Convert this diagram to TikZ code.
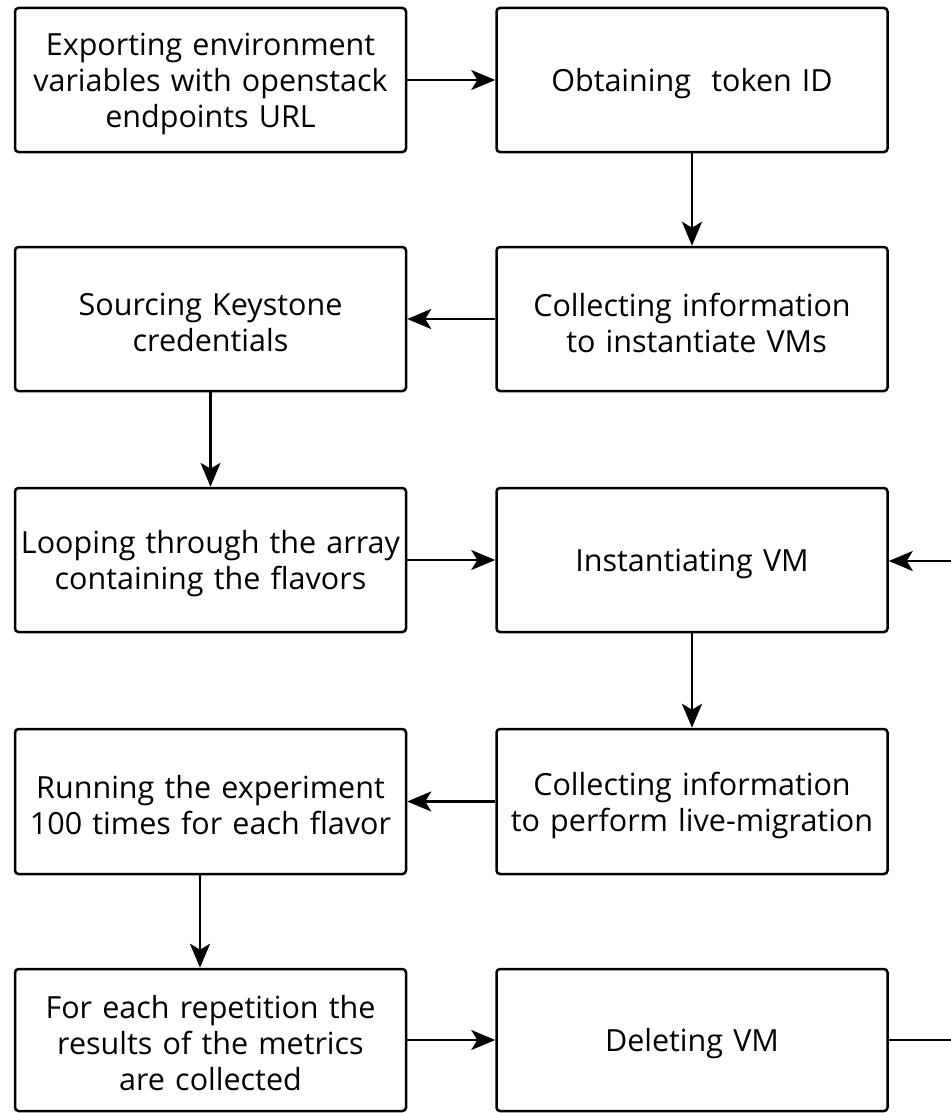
\documentclass[tikz,border=0pt]{standalone}
\usepackage{fontspec}
\setmainfont{Open Sans}
\usetikzlibrary{arrows.meta}
\begin{document}
\begin{tikzpicture}[x=1pt,y=-1pt,
  stepbox/.style={draw=black, line width=2.5pt, rounded corners=3.5pt,
    minimum width=391pt, minimum height=144pt, inner sep=0pt,
    text width=388pt, align=center,
    font=\fontsize{30.5}{36}\selectfont,
    execute at end node={\endgraf\vspace*{-7pt}}},
  arr/.style={line width=2.5pt, -{Stealth[length=24pt,width=20pt,inset=6pt]}},
  link/.style={line width=2.5pt}]
\useasboundingbox (0,0) rectangle (950,1113);

% left column
\node[stepbox] (exp) at (210.5,80)  {Exporting environment\\variables with openstack\\endpoints URL};
\node[stepbox] (src) at (210.5,319) {Sourcing Keystone\\credentials};
\node[stepbox] (loop) at (210.5,560) {Looping through the array\\containing the flavors};
\node[stepbox, minimum height=145pt] (run) at (210.5,801.5) {Running the experiment\\100 times for each flavor};
\node[stepbox, minimum height=142pt] (rep) at (210.5,1040) {For each repetition the\\results of the metrics\\are collected};

% right column
\node[stepbox] (tok) at (692,80)  {Obtaining\ \ token ID};
\node[stepbox] (col) at (692,319) {Collecting information\\\hspace{0.3em}to instantiate VMs};
\node[stepbox] (inst) at (692,560) {Instantiating VM};
\node[stepbox, minimum height=145pt] (mig) at (692,801.5) {Collecting information\\to perform live-migration};
\node[stepbox, minimum height=142pt] (del) at (692,1040) {Deleting VM};

% flow
\draw[arr] (exp.east) -- (tok.west);
\draw[arr] (tok.south) -- (col.north);
\draw[arr] (col.west) -- (src.east);
\draw[arr] (src.south) -- (loop.north);
\draw[arr] (loop.east) -- (inst.west);
\draw[arr] (inst.south) -- (mig.north);
\draw[arr] (mig.west) -- (run.east);
\draw[arr] ([xshift=-10.5pt]run.south) -- ([xshift=-10.5pt]rep.north);
\draw[arr] (rep.east) -- (del.west);

% loop back to the next VM
\coordinate (backlow) at (953,1040);
\coordinate (backhigh) at (953,561);
\draw[link] (del.east) -- (backlow) -- (backhigh);
\draw[arr] (backhigh) -- (inst.east |- backhigh);
\end{tikzpicture}
\end{document}
